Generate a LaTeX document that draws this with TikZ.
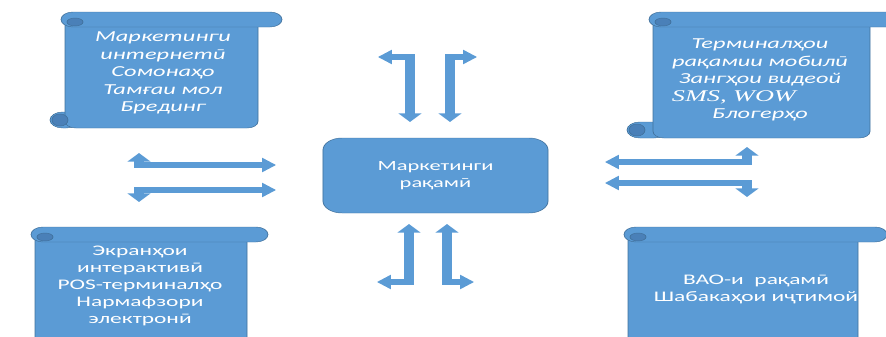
\documentclass[tikz,border=0pt]{standalone}
\usepackage{fontspec}
\setmainfont{Carlito}
\newfontfamily\serifit{Liberation Serif}
\usetikzlibrary{arrows.meta}

\definecolor{blueA}{HTML}{5B9BD5}
\definecolor{blueB}{HTML}{41719C}
\definecolor{blueC}{HTML}{4A80B8}

\tikzset{
	scrollbody/.style={fill=blueA, draw=blueB, line width=0.4pt},
	curl/.style={fill=blueC, draw=blueB, line width=0.4pt},
	scrolltext/.style={text=white, align=center, font=\fontsize{13}{15}\selectfont\itshape},
	plaintext/.style={text=white, align=center, font=\fontsize{12.5}{14.5}\selectfont},
	corebox/.style={scrollbody, rounded corners=3.6mm, minimum width=42.2mm, minimum height=22.5mm,
		text=white, align=center, font=\fontsize{12}{14}\selectfont},
	bent/.style={draw=blueA, line width=1.8mm,
		{Triangle[length=2.6mm,width=4.2mm]}-{Triangle[length=2.6mm,width=4.2mm]}},
}

% curl left, body left, body right, roll right, top, bottom
\newcommand\scrollshape[6]{%
	\draw[scrollbody, rounded corners=2.4mm] (#1,#6-16) rectangle (#2+14,#6);
	\draw[scrollbody, rounded corners=2mm] (#2,#5+7) rectangle (#3,#6);
	\fill[curl] (#1+10,#6-8) ellipse [x radius=8, y radius=6];
	\draw[scrollbody, rounded corners=2.25mm] (#2-4,#5) rectangle (#4,#5+15);
	\fill[curl] (#2+10,#5+10) ellipse [x radius=8, y radius=4];
}

\begin{document}
\begin{tikzpicture}[x=0.3mm, y=-0.3mm]

	\useasboundingbox (0,0) rectangle (886,336);

	\begin{scope}[x=0.1875mm, transform canvas={xscale=1.6}]

	% scrolls
	\scrollshape{50}{65}{258}{282}{12}{128}
	\scrollshape{627}{653}{870}{900}{12}{138}
	\scrollshape{20}{35}{247}{268}{227}{360}
	\scrollshape{612}{628}{858}{887}{227}{360}

	\node[scrolltext] (web) at (163,73)
		{Маркетинги\\интернетӣ\\Сомонаҳо\\Тамғаи мол\\Брединг};
	\node[scrolltext] (mobile) at (760,80)
		{Терминалҳои\\рақамии мобилӣ\\Зангҳои видеой\\\serifit\itshape\fontsize{14}{15}\selectfont SMS, WOW\makebox[9.8mm]{}\\Блогерҳо};
	\node[plaintext] (offline) at (140,286)
		{Экранҳои\\интерактивӣ\\POS-терминалҳо\\Нармафзори\\электронӣ};
	\node[plaintext] (social) at (756,289)
		{ВАО-и~ рақамӣ\\Шабакаҳои иҷтимой};

	% centre
	\node[corebox] (core) at (435.5,175.5) {Маркетинги\\рақамӣ};

	% arrows above and below the centre
	\draw[bent] (378,57) -- (410,57) -- (410,122);
	\draw[bent] (477,57) -- (450,57) -- (450,122);
	\draw[bent] (377,282) -- (409,282) -- (409,224);
	\draw[bent] (474,282) -- (447,282) -- (447,224);

	% arrows left and right of the centre
	\draw[bent] (139,153) -- (139,165) -- (276,165);
	\draw[bent] (139,202) -- (139,190) -- (276,190);
	\draw[bent] (747,147) -- (747,162) -- (605,162);
	\draw[bent] (747,197) -- (747,183) -- (605,183);

	\end{scope}

\end{tikzpicture}
\end{document}
